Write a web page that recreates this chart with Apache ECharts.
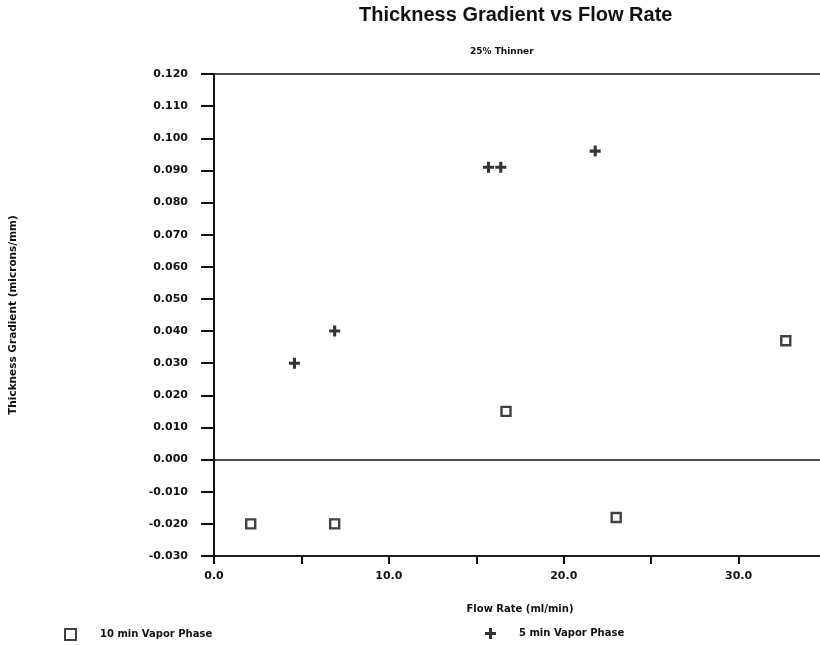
<!DOCTYPE html>
<html>
<head>
<meta charset="utf-8">
<script src="https://cdn.jsdelivr.net/npm/echarts@6/dist/echarts.min.js"></script>
<style>html,body{margin:0;padding:0;background:#fff;}#c{width:820px;height:645px;}</style>
</head>
<body>
<div id="c"></div>
<script>
var seriesNames = ['10 min Vapor Phase', '5 min Vapor Phase'];
var flow10 = [2.1, 6.9, 16.7, 23.0, 32.7];
var grad10 = [-0.020, -0.020, 0.015, -0.018, 0.037];
var flow5 = [4.6, 6.9, 15.7, 16.4, 21.8];
var grad5 = [0.030, 0.040, 0.091, 0.091, 0.096];
var xLabeled = [0, 10, 20, 30];

var FONT = '"Liberation Sans", Arial, sans-serif';
var SMALL = '"DejaVu Sans", sans-serif';
var plusPath = 'path://M3.6,0 L6.4,0 L6.4,3.6 L10,3.6 L10,6.4 L6.4,6.4 L6.4,10 L3.6,10 L3.6,6.4 L0,6.4 L0,3.6 L3.6,3.6 Z';

function pairs(xs, ys) { return xs.map(function (x, i) { return [x, ys[i]]; }); }

var chart = echarts.init(document.getElementById('c'));
chart.setOption({
  animation: false,
  backgroundColor: '#ffffff',
  graphic: [
    { type: 'text', left: 359, top: 5, style: { text: 'Thickness Gradient vs Flow Rate', font: 'bold 20px ' + FONT, fill: '#111' } },
    { type: 'text', left: 470, top: 47, style: { text: '25% Thinner', font: 'bold 9px ' + SMALL, fill: '#111' } }
  ],
  legend: [
    { data: [seriesNames[0]], left: 59, top: 623, itemWidth: 11, itemHeight: 11, itemGap: 10,
      textStyle: { fontFamily: SMALL, fontWeight: 'bold', fontSize: 10, color: '#111', padding: [0, 0, 0, 19] } },
    { data: [seriesNames[1]], left: 480, top: 623, itemWidth: 11, itemHeight: 11, itemGap: 10,
      textStyle: { fontFamily: SMALL, fontWeight: 'bold', fontSize: 10, color: '#111', padding: [0, 0, 0, 18] } }
  ],
  grid: { left: 214, top: 74, width: 612, height: 482, containLabel: false, outerBoundsMode: 'none',
    show: true, borderColor: '#111', borderWidth: 1.5, backgroundColor: 'transparent' },
  xAxis: {
    type: 'value', min: 0, max: 35, interval: 5,
    name: 'Flow Rate (ml/min)', nameLocation: 'middle', nameGap: 48,
    nameTextStyle: { fontFamily: SMALL, fontWeight: 'bold', fontSize: 10, color: '#111' },
    axisLine: { show: true, onZero: false, lineStyle: { color: '#111', width: 1.5 } },
    axisTick: { show: true, inside: false, length: 8, lineStyle: { color: '#111', width: 2 } },
    axisLabel: { margin: 15, fontFamily: SMALL, fontWeight: 'bold', fontSize: 11, color: '#111',
      formatter: function (v) { return xLabeled.indexOf(Math.round(v)) >= 0 ? v.toFixed(1) : ''; } },
    splitLine: { show: false }
  },
  yAxis: {
    type: 'value', min: -0.03, max: 0.12, interval: 0.01,
    name: 'Thickness Gradient (microns/mm)', nameLocation: 'middle', nameGap: 195, nameRotate: 90,
    nameTextStyle: { fontFamily: SMALL, fontWeight: 'bold', fontSize: 10.5, color: '#111' },
    axisLine: { show: true, onZero: false, lineStyle: { color: '#111', width: 2 } },
    axisTick: { show: true, inside: false, length: 13, lineStyle: { color: '#111', width: 2 } },
    axisLabel: { margin: 26, fontFamily: SMALL, fontWeight: 'bold', fontSize: 11, color: '#111',
      formatter: function (v) { return v.toFixed(3); } },
    splitLine: { show: false }
  },
  series: [
    { name: seriesNames[0], type: 'scatter', data: pairs(flow10, grad10),
      symbol: 'rect', symbolSize: 9,
      itemStyle: { color: '#ffffff', borderColor: '#111', borderWidth: 2.4 },
      markLine: { silent: true, symbol: 'none', label: { show: false },
        lineStyle: { color: '#111', width: 1.5, type: 'solid' }, data: [{ yAxis: 0 }] } },
    { name: seriesNames[1], type: 'scatter', data: pairs(flow5, grad5),
      symbol: plusPath, symbolSize: 11,
      itemStyle: { color: '#000' } }
  ]
});
</script>
</body>
</html>
